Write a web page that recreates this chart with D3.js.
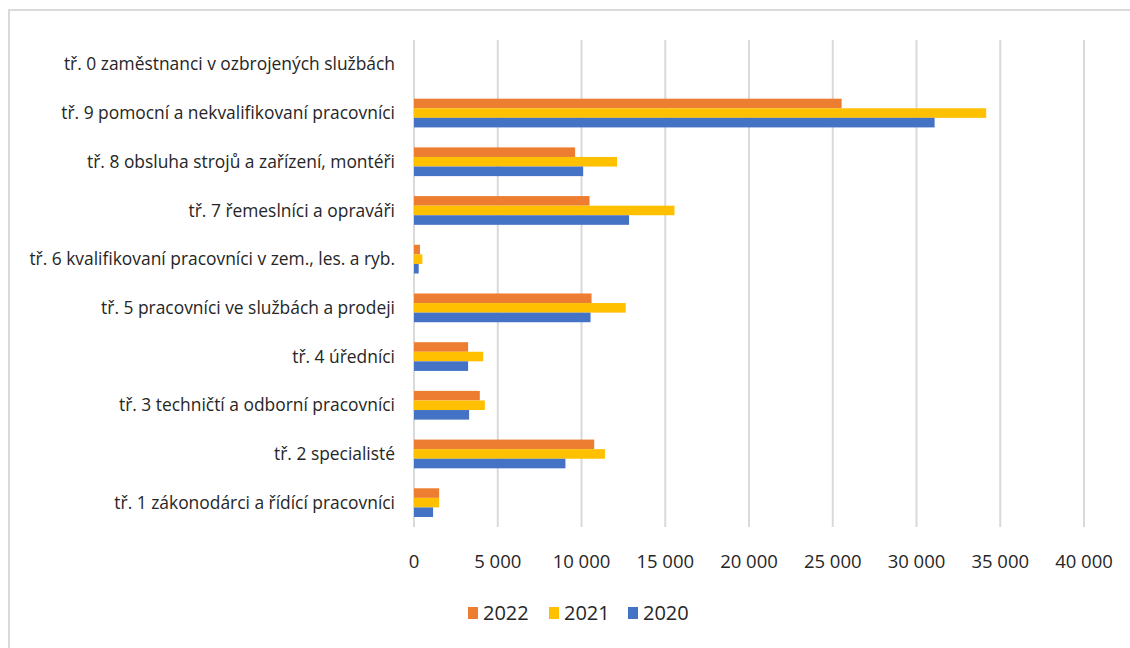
<!DOCTYPE html>
<html>
<head>
<meta charset="utf-8">
<script src="https://cdn.jsdelivr.net/npm/d3@7"></script>
<style>
  body { margin: 0; background: #fff; }
  text { font-family: "Open Sans", sans-serif; fill: #262626; }
</style>
</head>
<body>
<div class="bar-chart"></div>
<script>
// categories, top to bottom as drawn
var categories = [
  "tř. 0 zaměstnanci v ozbrojených službách",
  "tř. 9 pomocní a nekvalifikovaní pracovníci",
  "tř. 8 obsluha strojů a zařízení, montéři",
  "tř. 7 řemeslníci a opraváři",
  "tř. 6 kvalifikovaní pracovníci v zem., les. a ryb.",
  "tř. 5 pracovníci ve službách a prodeji",
  "tř. 4 úředníci",
  "tř. 3 techničtí a odborní pracovníci",
  "tř. 2 specialisté",
  "tř. 1 zákonodárci a řídící pracovníci"
];

var years = ["2022", "2021", "2020"];

// values in the same order as categories
var values2022 = [0, 25530, 9620, 10480, 360, 10600, 3230, 3930, 10760, 1500];
var values2021 = [0, 34160, 12120, 15550, 500, 12640, 4130, 4230, 11400, 1500];
var values2020 = [0, 31080, 10100, 12840, 280, 10540, 3230, 3290, 9040, 1140];

var ticks = [0, 5000, 10000, 15000, 20000, 25000, 30000, 35000, 40000];

var colors = { "2022": "#ED7D31", "2021": "#FFC000", "2020": "#4472C4" };

var width = 1130, height = 648;
var margin = { top: 40, right: 47, bottom: 121, left: 414 };

var series = { "2022": values2022, "2021": values2021, "2020": values2020 };

var svg = d3.select(".bar-chart")
  .append("svg")
  .attr("width", width)
  .attr("height", height);

// outer frame
svg.append("rect")
  .attr("x", 9).attr("y", 10)
  .attr("width", 1140).attr("height", 660)
  .attr("fill", "none")
  .attr("stroke", "#d9d9d9")
  .attr("stroke-width", 2);

var x = d3.scaleLinear()
  .domain([0, 40000])
  .range([margin.left, width - margin.right + 1]);

var y = d3.scaleBand()
  .domain(categories)
  .range([margin.top, height - margin.bottom])
  .paddingInner(0.41)
  .paddingOuter(0.205);

var yInner = d3.scaleBand()
  .domain(years)
  .range([0, y.bandwidth()]);

var cs = d3.formatLocale({ decimal: ",", thousands: "\u00a0", grouping: [3], currency: ["", " Kč"] });
var fmt = cs.format(",d");

// gridlines
svg.append("g")
  .selectAll("line")
  .data(ticks)
  .enter()
  .append("line")
  .attr("x1", function(d) { return x(d); })
  .attr("x2", function(d) { return x(d); })
  .attr("y1", margin.top)
  .attr("y2", height - margin.bottom)
  .attr("stroke", "#d9d9d9")
  .attr("stroke-width", 2);

// bars
var groups = svg.append("g")
  .selectAll("g")
  .data(categories)
  .enter()
  .append("g")
  .attr("transform", function(d) { return "translate(0," + y(d) + ")"; });

groups.selectAll("rect")
  .data(function(d, i) {
    return years.map(function(yr) { return { year: yr, value: series[yr][i] }; });
  })
  .enter()
  .append("rect")
  .attr("x", x(0))
  .attr("y", function(d) { return yInner(d.year); })
  .attr("width", function(d) { return x(d.value) - x(0); })
  .attr("height", yInner.bandwidth())
  .attr("fill", function(d) { return colors[d.year]; });

// category labels
svg.append("g")
  .selectAll("text")
  .data(categories)
  .enter()
  .append("text")
  .attr("x", 395)
  .attr("y", function(d) { return y(d) + y.bandwidth() / 2; })
  .attr("dy", ".35em")
  .attr("text-anchor", "end")
  .style("font-size", "17.4px")
  .text(function(d) { return d; });

// value axis labels
svg.append("g")
  .selectAll("text")
  .data(ticks)
  .enter()
  .append("text")
  .attr("x", function(d) { return x(d); })
  .attr("y", 562)
  .attr("dy", ".35em")
  .attr("text-anchor", "middle")
  .style("font-size", "18.5px")
  .text(function(d) { return fmt(d); });

// legend
var legendX = [468, 549, 628];
var legend = svg.append("g")
  .selectAll("g")
  .data(years)
  .enter()
  .append("g")
  .attr("transform", function(d, i) { return "translate(" + legendX[i] + ",613)"; });

legend.append("rect")
  .attr("x", 0).attr("y", -6)
  .attr("width", 10).attr("height", 12)
  .attr("fill", function(d) { return colors[d]; });

legend.append("text")
  .attr("x", 15)
  .attr("dy", ".35em")
  .style("font-size", "20px")
  .text(function(d) { return d; });
</script>
</body>
</html>
